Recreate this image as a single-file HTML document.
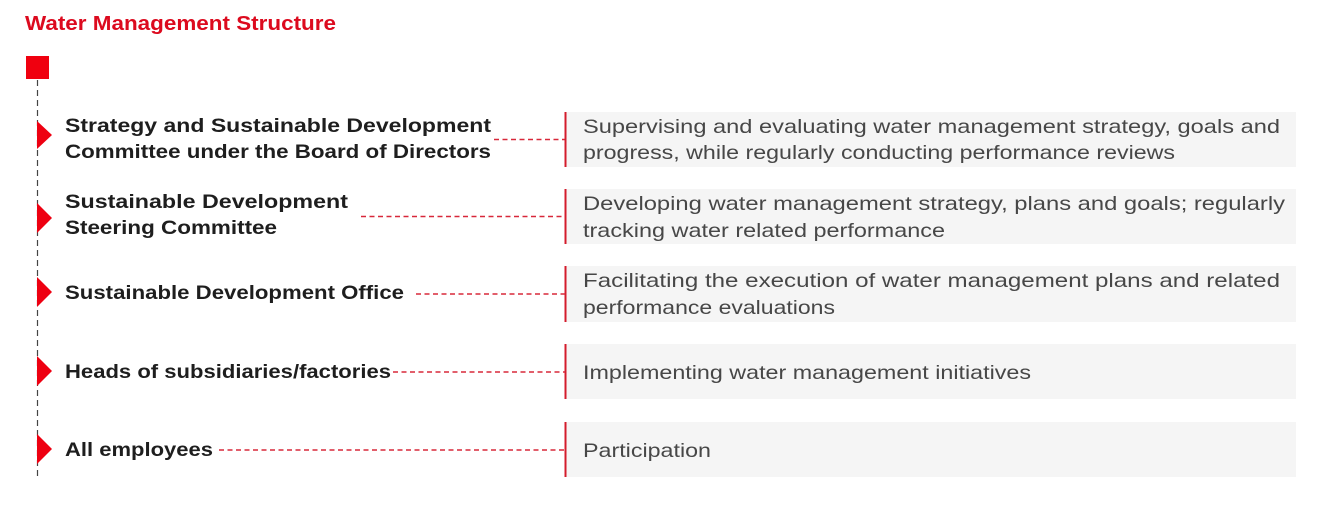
<!DOCTYPE html>
<html>
<head>
<meta charset="utf-8">
<style>
html,body{margin:0;padding:0;background:#fff;}
svg{display:block;}
text{font-family:"Liberation Sans", sans-serif;}
.lb{font-weight:bold;font-size:19.5px;fill:#1e1e1e;}
.bx{font-size:19.5px;fill:#474747;}
</style>
</head>
<body>
<svg width="1321" height="520" viewBox="0 0 1321 520" xmlns="http://www.w3.org/2000/svg">
  <rect x="0" y="0" width="1321" height="520" fill="#fff"/>
  <!-- title -->
  <text x="25" y="30" font-size="20.5" font-weight="bold" fill="#dc0a1e" textLength="311" lengthAdjust="spacingAndGlyphs">Water Management Structure</text>

  <!-- red square -->
  <rect x="26" y="56" width="23" height="23" fill="#f0000f"/>
  <!-- vertical dashed line -->
  <line x1="37.5" y1="80" x2="37.5" y2="478" stroke="#444" stroke-width="1.2" stroke-dasharray="6 4"/>

  <!-- arrows -->
  <polygon points="37,121 52,135 37,149" fill="#ee0011"/>
  <polygon points="37,203 52,218 37,233" fill="#ee0011"/>
  <polygon points="37,277 52,292 37,307" fill="#ee0011"/>
  <polygon points="37,356 52,371 37,386" fill="#ee0011"/>
  <polygon points="37,434 52,449 37,464" fill="#ee0011"/>

  <!-- boxes -->
  <rect x="566" y="112" width="730" height="55" fill="#f5f5f5"/>
  <rect x="566" y="189" width="730" height="55" fill="#f5f5f5"/>
  <rect x="566" y="266" width="730" height="56" fill="#f5f5f5"/>
  <rect x="566" y="344" width="730" height="55" fill="#f5f5f5"/>
  <rect x="566" y="422" width="730" height="55" fill="#f5f5f5"/>

  <!-- red bars -->
  <rect x="564.5" y="112" width="2" height="55" fill="#d41c2c"/>
  <rect x="564.5" y="189" width="2" height="55" fill="#d41c2c"/>
  <rect x="564.5" y="266" width="2" height="56" fill="#d41c2c"/>
  <rect x="564.5" y="344" width="2" height="55" fill="#d41c2c"/>
  <rect x="564.5" y="422" width="2" height="55" fill="#d41c2c"/>

  <!-- connectors -->
  <g stroke="#d8283a" stroke-width="1.5" stroke-dasharray="5 3.5">
    <line x1="494" y1="139.5" x2="565" y2="139.5"/>
    <line x1="361" y1="216.5" x2="565" y2="216.5"/>
    <line x1="416" y1="294" x2="565" y2="294"/>
    <line x1="393" y1="372" x2="565" y2="372"/>
    <line x1="219" y1="450" x2="565" y2="450"/>
  </g>

  <!-- labels -->
  <text class="lb" x="65" y="132" textLength="426" lengthAdjust="spacingAndGlyphs">Strategy and Sustainable Development</text>
  <text class="lb" x="65" y="158" textLength="426" lengthAdjust="spacingAndGlyphs">Committee under the Board of Directors</text>
  <text class="lb" x="65" y="208" textLength="283" lengthAdjust="spacingAndGlyphs">Sustainable Development</text>
  <text class="lb" x="65" y="234" textLength="212" lengthAdjust="spacingAndGlyphs">Steering Committee</text>
  <text class="lb" x="65" y="299" textLength="339" lengthAdjust="spacingAndGlyphs">Sustainable Development Office</text>
  <text class="lb" x="65" y="378" textLength="326" lengthAdjust="spacingAndGlyphs">Heads of subsidiaries/factories</text>
  <text class="lb" x="65" y="456" textLength="148" lengthAdjust="spacingAndGlyphs">All employees</text>

  <!-- box text -->
  <text class="bx" x="583" y="133" textLength="697" lengthAdjust="spacingAndGlyphs">Supervising and evaluating water management strategy, goals and</text>
  <text class="bx" x="583" y="159" textLength="592" lengthAdjust="spacingAndGlyphs">progress, while regularly conducting performance reviews</text>
  <text class="bx" x="583" y="210" textLength="702" lengthAdjust="spacingAndGlyphs">Developing water management strategy, plans and goals; regularly</text>
  <text class="bx" x="583" y="237" textLength="362" lengthAdjust="spacingAndGlyphs">tracking water related performance</text>
  <text class="bx" x="583" y="287" textLength="697" lengthAdjust="spacingAndGlyphs">Facilitating the execution of water management plans and related</text>
  <text class="bx" x="583" y="314" textLength="252" lengthAdjust="spacingAndGlyphs">performance evaluations</text>
  <text class="bx" x="583" y="379" textLength="448" lengthAdjust="spacingAndGlyphs">Implementing water management initiatives</text>
  <text class="bx" x="583" y="457" textLength="128" lengthAdjust="spacingAndGlyphs">Participation</text>
</svg>
</body>
</html>
